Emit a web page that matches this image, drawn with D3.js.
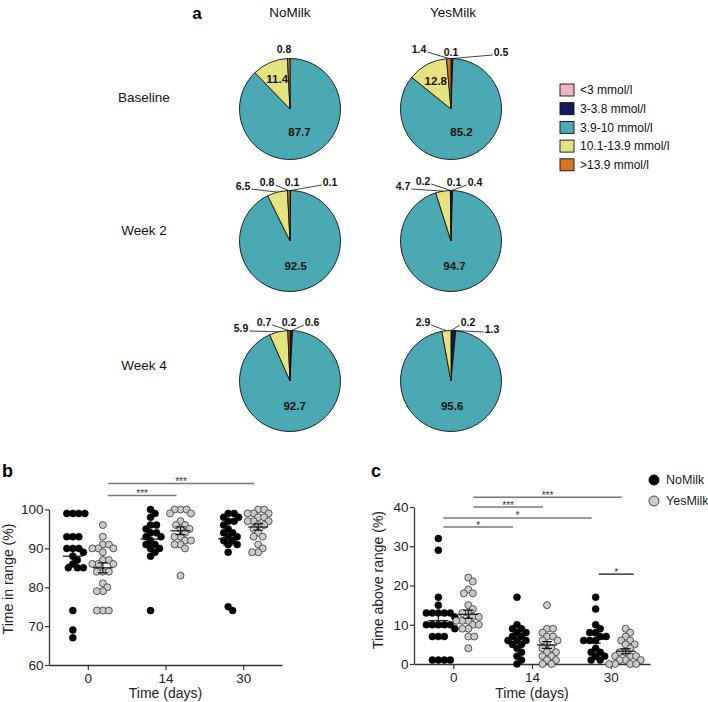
<!DOCTYPE html>
<html>
<head>
<meta charset="utf-8">
<script src="https://cdn.jsdelivr.net/npm/d3@7"></script>
<style>
  body { margin: 0; background: #fff; }
  svg { font-family: Arial, "Liberation Sans", sans-serif; }
</style>
</head>
<body>
<svg id="chart" width="708" height="702"></svg>
<script>
// ********************************* Data

const ranges = ["<3 mmol/l", "3-3.8 mmol/l", "3.9-10 mmol/l", "10.1-13.9 mmol/l", ">13.9 mmol/l"];
const groups = ["NoMilk", "YesMilk"];
const timepoints = ["Baseline", "Week 2", "Week 4"];

// % of time in each glucose range, one row per timepoint
const pieNoMilk = [
  [0, 0, 87.7, 11.4, 0.8],
  [0.1, 0.1, 92.5, 6.5, 0.8],
  [0.2, 0.6, 92.7, 5.9, 0.7]
];
const pieYesMilk = [
  [0.1, 0.5, 85.2, 12.8, 1.4],
  [0.1, 0.4, 94.7, 4.7, 0.2],
  [0.2, 1.3, 95.6, 2.9, 0]
];

const days = ["0", "14", "30"];

// time in range (%) per participant
const tirNoMilk = [
  [99, 99, 99, 99, 93, 93, 93, 90, 90, 90, 89, 88, 87, 86, 85, 85, 85, 74, 69, 67],
  [100, 99, 98, 96, 96, 95, 94, 94, 93, 93, 92, 91, 91, 90, 90, 89, 88, 74],
  [99, 99, 98, 98, 97, 97, 96, 95, 94, 94, 93, 93, 92, 92, 91, 91, 89, 75, 74]
];
const tirYesMilk = [
  [96, 93, 91, 91, 90, 90, 90, 89, 87, 87, 86, 86, 86, 84, 84, 84, 81, 80, 79, 79, 74, 74, 74],
  [100, 100, 100, 99, 99, 97, 96, 96, 95, 95, 94, 93, 93, 92, 92, 91, 91, 90, 83],
  [100, 100, 99, 99, 99, 98, 98, 97, 97, 97, 96, 96, 95, 94, 93, 93, 91, 90, 89, 89]
];

// time above range (%) per participant
const tarNoMilk = [
  [32, 29, 17, 15, 13, 13, 13, 13, 13, 12, 10, 10, 10, 10, 10, 9, 7, 7, 7, 1, 1, 1, 1],
  [17, 10, 9, 9, 8, 8, 7, 7, 6, 6, 6, 5, 5, 4, 3, 2, 1, 0],
  [17, 14, 10, 9, 8, 8, 7, 7, 6, 6, 6, 4, 3, 3, 2, 2, 1, 1]
];
const tarYesMilk = [
  [22, 21, 19, 18, 18, 15, 14, 13, 13, 12, 12, 11, 11, 11, 10, 10, 9, 9, 7, 7, 4],
  [15, 9, 9, 8, 7, 7, 6, 6, 5, 4, 4, 3, 3, 2, 2, 1, 1, 0, 0],
  [9, 8, 7, 6, 6, 5, 5, 4, 3, 3, 2, 2, 2, 1, 1, 1, 0, 0, 0, 0]
];

// significance brackets: [fromDay, fromGroup], [toDay, toGroup], height (data units), label
const sigB = [
  { from: ["0", "YesMilk"], to: ["30", "YesMilk"], level: 106.7, label: "***" },
  { from: ["0", "YesMilk"], to: ["14", "YesMilk"], level: 103.6, label: "***" }
];
const sigC = [
  { from: ["0", "YesMilk"], to: ["30", "YesMilk"], level: 42.5, label: "***" },
  { from: ["0", "YesMilk"], to: ["14", "YesMilk"], level: 40.0, label: "***" },
  { from: ["0", "NoMilk"], to: ["30", "NoMilk"], level: 37.2, label: "*" },
  { from: ["0", "NoMilk"], to: ["14", "NoMilk"], level: 34.9, label: "*" },
  { from: ["30", "NoMilk"], to: ["30", "YesMilk"], level: 22.9, label: "*", between: true }
];

// ********************************* Styles / layout

const sliceColors = ["#f0b5c1", "#121a5e", "#4ba9b4", "#e4e37f", "#d8761f"];
const groupFill = { NoMilk: "#000000", YesMilk: "#cbcbcb" };

const svg = d3.select("#chart");

// ********************************* Panel a : pies

const R = 50.5;
const pieX = d3.scaleOrdinal().domain(groups).range([290, 451]);
const pieY = d3.scaleOrdinal().domain(timepoints).range([109, 241, 381]);
const rowLabelY = [97, 230, 365];

// label placement per pie, per slice: "in" = inside, [dx, dy, leader] = outside, null = none
const labelLayout = {
  "NoMilk-0": [null, null, "in", "in", [-6, -60, false]],
  "YesMilk-0": [[0, -57, false], [50, -57, true], "in", "in", [-32, -60, true]],
  "NoMilk-1": [[2, -59, false], [40, -59, true], "in", [-47, -55, true], [-23, -59, true]],
  "YesMilk-1": [[3, -59, false], [24, -59, true], "in", [-48, -55, true], [-28, -60, true]],
  "NoMilk-2": [[-1, -59, false], [22, -59, true], "in", [-49, -53, true], [-26, -59, true]],
  "YesMilk-2": [[17, -59, true], [41, -52, true], "in", [-28, -59, true], null]
};

svg.append("text").attr("x", 197).attr("y", 19)
  .attr("font-size", 17).attr("font-weight", "bold").attr("text-anchor", "middle").text("a");

groups.forEach(g => {
  svg.append("text").attr("x", pieX(g) + (g === "YesMilk" ? 2 : 0)).attr("y", 17)
    .attr("text-anchor", "middle").attr("font-size", 13.5).attr("fill", "#111").text(g);
});

timepoints.forEach((t, i) => {
  svg.append("text").attr("x", 144).attr("y", rowLabelY[i]).attr("dy", "0.35em")
    .attr("text-anchor", "middle").attr("font-size", 13.5).attr("fill", "#111").text(t);
});

const pie = d3.pie().sort(null).value(d => d);
const arc = d3.arc().innerRadius(0).outerRadius(R);

function drawPie(values, group, row) {
  const g = svg.append("g")
    .attr("transform", "translate(" + pieX(group) + "," + pieY(timepoints[row]) + ")");
  const arcs = pie(values);
  const layout = labelLayout[group + "-" + row];

  g.selectAll("path")
    .data(arcs.filter(d => d.value > 0))
    .enter().append("path")
    .attr("d", arc)
    .attr("fill", d => sliceColors[d.index])
    .attr("stroke", "#111")
    .attr("stroke-width", 0.9);

  arcs.forEach((d, i) => {
    const spec = layout[i];
    if (!spec || d.value <= 0) return;
    const mid = (d.startAngle + d.endAngle) / 2;
    if (spec === "in") {
      const k = i === 2 ? 0.5 : 0.64;
      g.append("text")
        .attr("x", Math.sin(mid) * R * k)
        .attr("y", -Math.cos(mid) * R * k)
        .attr("dy", "0.35em").attr("text-anchor", "middle")
        .attr("font-size", 11.5).attr("font-weight", "bold").attr("fill", "#111")
        .text(d.value.toFixed(1));
      return;
    }
    const lx = spec[0], ly = spec[1];
    const txt = g.append("text")
      .attr("x", lx).attr("y", ly).attr("dy", "0.35em").attr("text-anchor", "middle")
      .attr("font-size", 10.5).attr("font-weight", "bold").attr("fill", "#111")
      .text(d.value.toFixed(1));
    if (spec[2]) {
      const w = txt.node().getComputedTextLength();
      const ax = Math.sin(mid) * R, ay = -Math.cos(mid) * R;
      let sx, sy = ly + 3;
      if (ax > lx + w / 2) sx = lx + w / 2 + 1;
      else if (ax < lx - w / 2) sx = lx - w / 2 - 1;
      else { sx = lx; sy = ly + 6; }
      g.append("line")
        .attr("x1", sx).attr("y1", sy).attr("x2", ax).attr("y2", ay)
        .attr("stroke", "#111").attr("stroke-width", 0.8);
    }
  });
}

pieNoMilk.forEach((v, i) => drawPie(v, "NoMilk", i));
pieYesMilk.forEach((v, i) => drawPie(v, "YesMilk", i));

// legend for pies
const leg = svg.append("g").attr("transform", "translate(560,90)");
ranges.forEach((r, i) => {
  leg.append("rect").attr("x", 0).attr("y", i * 18.7 - 6).attr("width", 14).attr("height", 12)
    .attr("fill", sliceColors[i]).attr("stroke", "#111").attr("stroke-width", 0.9);
  leg.append("text").attr("x", 20).attr("y", i * 18.7).attr("dy", "0.35em")
    .attr("font-size", 12).attr("fill", "#111").text(r);
});

// ********************************* Scatter panels

const DOT_R = 3.5;
const MIN_DIST = 5.8;

// simple beeswarm: place each point as close to the centre as collisions allow
function swarm(values, y) {
  const pts = values.map(v => ({ v: v, y: y(v) })).sort((a, b) => a.y - b.y);
  const placed = [];
  pts.forEach(p => {
    for (let k = 0; k < 60; k++) {
      const cands = k === 0 ? [0] : [k * 0.5, -k * 0.5];
      let ok = null;
      for (const c of cands) {
        const hit = placed.some(q => Math.hypot(q.dx - c, q.y - p.y) < MIN_DIST);
        if (!hit) { ok = c; break; }
      }
      if (ok !== null) { p.dx = ok; break; }
    }
    placed.push(p);
  });
  return placed;
}

function drawScatter(opts) {
  const x = d3.scalePoint().domain(days).range(opts.xRange).padding(0.5);
  const off = d3.scalePoint().domain(groups).range([-15, 15]);
  const y = d3.scaleLinear().domain(opts.yDomain).range(opts.yRange);
  const cx = (day, grp) => x(day) + off(grp);

  const g = svg.append("g");

  // panel letter
  g.append("text").attr("x", opts.letterX).attr("y", 477)
    .attr("font-size", 18).attr("font-weight", "bold").text(opts.letter);

  // axes
  const yAxis = g.append("g")
    .attr("transform", "translate(" + opts.xRange[0] + ",0)")
    .call(d3.axisLeft(y).tickValues(opts.yTicks).tickSize(4).tickSizeOuter(0).tickPadding(1.5));
  const xAxis = g.append("g")
    .attr("transform", "translate(0," + opts.yRange[0] + ")")
    .call(d3.axisBottom(x).tickSize(5).tickSizeOuter(0).tickPadding(3.5));
  [yAxis, xAxis].forEach(a => {
    a.select(".domain").attr("stroke", "#333").attr("stroke-width", 1.3);
    a.selectAll(".tick line").attr("stroke", "#333").attr("stroke-width", 1.2);
    a.selectAll(".tick text").attr("font-size", 13.5).attr("fill", "#222")
      .attr("font-family", "Arial, 'Liberation Sans', sans-serif");
  });

  g.append("text")
    .attr("transform", "translate(" + opts.yTitleX + "," + opts.yTitleY + ") rotate(-90)")
    .attr("text-anchor", "middle").attr("font-size", 14).attr("fill", "#222").text(opts.yTitle);
  g.append("text")
    .attr("x", x("14")).attr("y", 698).attr("text-anchor", "middle")
    .attr("font-size", 14).attr("fill", "#222").text("Time (days)");

  // dots + mean +- SEM
  groups.forEach(grp => {
    const series = opts.data[grp];
    days.forEach((day, i) => {
      const vals = series[i];
      const pts = swarm(vals, y);
      const c = cx(day, grp);
      g.selectAll(null).data(pts).enter().append("circle")
        .attr("cx", d => c + d.dx)
        .attr("cy", d => d.y)
        .attr("r", DOT_R)
        .attr("fill", groupFill[grp])
        .attr("stroke", grp === "NoMilk" ? "#000" : "#333")
        .attr("stroke-width", grp === "NoMilk" ? 0.5 : 0.8);

      const m = d3.mean(vals);
      const sem = d3.deviation(vals) / Math.sqrt(vals.length);
      const eb = g.append("g").attr("stroke", "#111").attr("stroke-width", 1.2);
      eb.append("line").attr("x1", c - 10).attr("x2", c + 10).attr("y1", y(m)).attr("y2", y(m));
      eb.append("line").attr("x1", c).attr("x2", c).attr("y1", y(m - sem)).attr("y2", y(m + sem));
      eb.append("line").attr("x1", c - 5).attr("x2", c + 5).attr("y1", y(m - sem)).attr("y2", y(m - sem));
      eb.append("line").attr("x1", c - 5).attr("x2", c + 5).attr("y1", y(m + sem)).attr("y2", y(m + sem));
    });
  });

  // significance brackets
  opts.sig.forEach(s => {
    const x1 = cx(s.from[0], s.from[1]) + (s.between ? 3 : 5);
    const x2 = cx(s.to[0], s.to[1]) + (s.between ? 8 : -4);
    const yy = y(s.level);
    g.append("line").attr("x1", x1).attr("x2", x2).attr("y1", yy).attr("y2", yy)
      .attr("stroke", s.between ? "#111" : "#777").attr("stroke-width", s.between ? 1.2 : 1.5);
    g.append("text").attr("x", (x1 + x2) / 2).attr("y", yy + 1.5)
      .attr("text-anchor", "middle").attr("font-size", 10)
      .attr("fill", "#333").text(s.label);
  });
  return g;
}

drawScatter({
  letter: "b", letterX: 2,
  xRange: [49, 282], yDomain: [60, 100], yRange: [665, 509.5],
  yTicks: [60, 70, 80, 90, 100],
  yTitle: "Time in range (%)", yTitleX: 13, yTitleY: 579,
  data: { NoMilk: tirNoMilk, YesMilk: tirYesMilk },
  sig: sigB
});

drawScatter({
  letter: "c", letterX: 371,
  xRange: [414, 650], yDomain: [0, 40], yRange: [664, 507],
  yTicks: [0, 10, 20, 30, 40],
  yTitle: "Time above range (%)", yTitleX: 383, yTitleY: 580,
  data: { NoMilk: tarNoMilk, YesMilk: tarYesMilk },
  sig: sigC
});

// legend for scatter groups
groups.forEach((grp, i) => {
  svg.append("circle").attr("cx", 654).attr("cy", 480 + i * 21).attr("r", 5)
    .attr("fill", groupFill[grp]).attr("stroke", grp === "NoMilk" ? "#000" : "#333").attr("stroke-width", 0.9);
  svg.append("text").attr("x", 666).attr("y", 480 + i * 21).attr("dy", "0.35em")
    .attr("font-size", 12.5).attr("fill", "#222").text(grp);
});
</script>
</body>
</html>
